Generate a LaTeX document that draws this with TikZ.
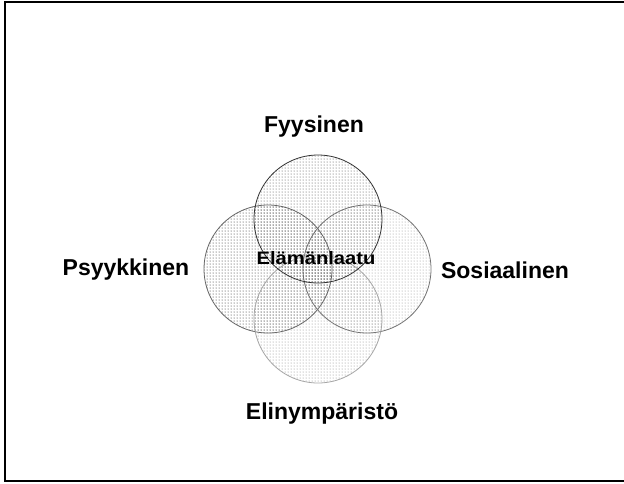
\documentclass[tikz,border=0pt]{standalone}
\usepackage{fontspec}
\setmainfont{Liberation Sans}
\usepackage{tikz}
\usetikzlibrary{patterns}

\begin{document}
\begin{tikzpicture}[x=1pt,y=-1pt]

\tikzset{
lbl/.style={font=\fontsize{23}{26}\selectfont\bfseries,inner sep=0pt},
ring/.style={line width=0.8pt,pattern=dots},
}

\useasboundingbox (0,0) rectangle (624,483);
\draw[line width=2pt] (624,2) -- (5,2) -- (5,481) -- (624,481);

% the four areas
\draw[ring,draw=black!60,pattern color=black!90] (268,269) circle [radius=64];
\draw[ring,draw=black!55,pattern color=black!45] (367,269) circle [radius=64];
\draw[ring,draw=black!35,pattern color=black!50] (318,319) circle [radius=64];
\draw[ring,draw=black!80,pattern color=black!75] (318,219) circle [radius=64];

\node[lbl] (fyys) at (314,127) {Fyysinen};
\node[lbl] (psyk) at (126,270) {Psyykkinen};
\node[lbl] (sos) at (505,270) {Sosiaalinen};
\node[lbl] (elin) at (322,414) {Elinympäristö};
\node[lbl,font=\fontsize{18}{20}\selectfont\bfseries,xscale=1.12,transform shape] (laatu) at (316,258) {Elämänlaatu};

\end{tikzpicture}
\end{document}
